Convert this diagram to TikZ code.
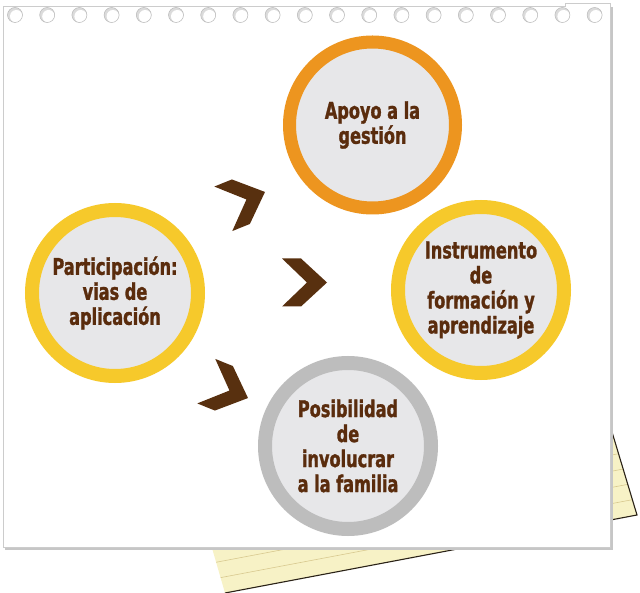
\documentclass[tikz,border=0pt]{standalone}
\usepackage{fontspec}
\newfontfamily\labelfont{DejaVu Sans Condensed}[FakeStretch=0.78, FakeBold=1.3]
\definecolor{innergray}{HTML}{E7E7E9}
\definecolor{ringyellow}{HTML}{F6C92B}
\definecolor{ringorange}{HTML}{ED951F}
\definecolor{ringgray}{HTML}{BDBDBD}
\definecolor{txtbrown}{HTML}{5A2C0D}
\definecolor{chevfill}{HTML}{58300F}
\definecolor{notepaper}{HTML}{F7F2C6}
\definecolor{paperline}{HTML}{D8C98F}
\definecolor{paperedge}{HTML}{2A2217}
\begin{document}
\begin{tikzpicture}[x=1pt,y=-1pt,
  ring/.style={circle, line width=14pt, fill=innergray, minimum size=166pt,
    inner sep=0pt, align=center, text=txtbrown,
    font=\labelfont\bfseries\fontsize{23}{25}\selectfont},
  holeline/.style={draw=gray!55, line width=0.5pt},
  pics/chevron/.style={code={
    \fill[chevfill] (-23,-24) -- (-4,-24) -- (22,0) -- (-4,24) -- (-23,24) -- (2,0) -- cycle;}}
]
\useasboundingbox (0,0) rectangle (640,593);

% lined note sheet lying under the page
\fill[notepaper] (225,593) -- (637,515) -- (581,329) -- (186,458) -- cycle;
\foreach \t in {16,32,...,176}
  \draw[paperline, line width=0.6pt]
    ({225-0.2775*\t},{593-0.9607*\t}) -- ({637-0.2883*\t},{515-0.9576*\t});
\draw[paperedge, line width=1.1pt] (225,593) -- (637,515) -- (581,329);

% spiral notebook page with its shadow
\fill[gray!45] (4.5,7.5) rectangle (612.5,549.5);
\filldraw[fill=white, draw=gray!40, line width=0.8pt]
  (3,547) -- (3,6) -- (565,6) -- (565,3) -- (610,3) -- (610,547) -- cycle;
\foreach \i [evaluate=\i as \hx using 15+32.2*\i] in {0,...,18} {
  \fill[gray!28] (\hx,15) circle (7.5);
  \fill[white] (\hx+1.3,16.3) circle (6.3);
  \draw[holeline] (\hx,15) circle (7.5);
}

% topic circles
\node[ring, draw=ringyellow] (part) at (115,293) {Participación:\\vias de\\aplicación};
\node[ring, draw=ringorange, line width=13pt] (apoyo) at (372.5,125) {Apoyo a la\\gestión};
\node[ring, draw=ringyellow] (instr) at (481,290) {Instrumento\\de\\formación y\\aprendizaje};
\node[ring, draw=ringgray] (posib) at (348,446) {Posibilidad\\de\\involucrar\\a la familia};

% chevrons leading from the central topic
\pic[rotate=22] (chevtop) at (244.6,200.2) {chevron};
\pic (chevmid) at (305,282.5) {chevron};
\pic[rotate=-22] (chevbot) at (227.6,389.8) {chevron};
\end{tikzpicture}
\end{document}
